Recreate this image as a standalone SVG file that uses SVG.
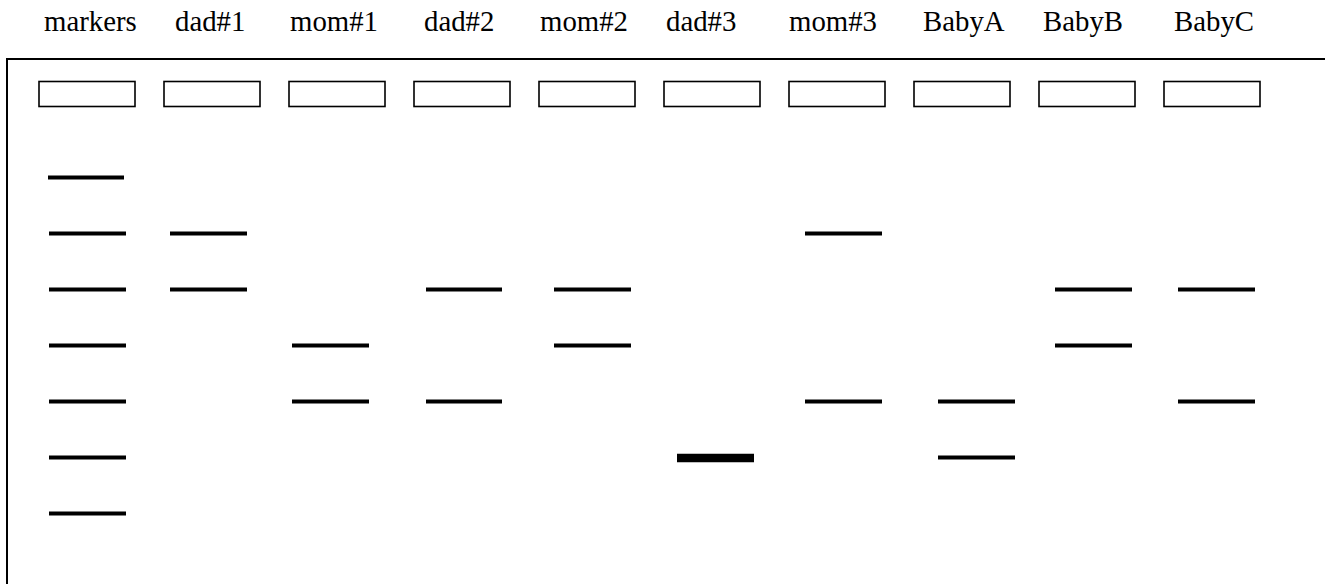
<svg xmlns="http://www.w3.org/2000/svg" width="1325" height="584" viewBox="0 0 1325 584">
<style>
.lbl{font-family:"Liberation Serif","Times New Roman",serif;font-size:28.8px;fill:#000}
.well{fill:#fff;stroke:#000;stroke-width:1.6}
.band{stroke:#000;stroke-width:4;fill:none}
.thick{stroke:#000;stroke-width:8.5;fill:none}
</style>
<rect width="1325" height="584" fill="#fff"/>
<path d="M7,590 V59 H1330" fill="none" stroke="#000" stroke-width="2"/>
<g id="labels">
<text class="lbl" x="44" y="31">markers</text>
<text class="lbl" x="175" y="31">dad#1</text>
<text class="lbl" x="290" y="31">mom#1</text>
<text class="lbl" x="424" y="31">dad#2</text>
<text class="lbl" x="540" y="31">mom#2</text>
<text class="lbl" x="666" y="31">dad#3</text>
<text class="lbl" x="789" y="31">mom#3</text>
<text class="lbl" x="923" y="31">BabyA</text>
<text class="lbl" x="1043" y="31">BabyB</text>
<text class="lbl" x="1174" y="31">BabyC</text>
</g>
<g id="wells">
<rect class="well" x="39" y="81.5" width="96" height="25"/>
<rect class="well" x="164" y="81.5" width="96" height="25"/>
<rect class="well" x="289" y="81.5" width="96" height="25"/>
<rect class="well" x="414" y="81.5" width="96" height="25"/>
<rect class="well" x="539" y="81.5" width="96" height="25"/>
<rect class="well" x="664" y="81.5" width="96" height="25"/>
<rect class="well" x="789" y="81.5" width="96" height="25"/>
<rect class="well" x="914" y="81.5" width="96" height="25"/>
<rect class="well" x="1039" y="81.5" width="96" height="25"/>
<rect class="well" x="1164" y="81.5" width="96" height="25"/>
</g>
<g id="lane-markers">
<line class="band" x1="48" y1="177.5" x2="124" y2="177.5"/>
<line class="band" x1="49" y1="233.5" x2="126" y2="233.5"/>
<line class="band" x1="49" y1="289.5" x2="126" y2="289.5"/>
<line class="band" x1="49" y1="345.5" x2="126" y2="345.5"/>
<line class="band" x1="49" y1="401.5" x2="126" y2="401.5"/>
<line class="band" x1="49" y1="457.5" x2="126" y2="457.5"/>
<line class="band" x1="49" y1="513.5" x2="126" y2="513.5"/>
</g>
<g id="lane-dad1">
<line class="band" x1="170" y1="233.5" x2="247" y2="233.5"/>
<line class="band" x1="170" y1="289.5" x2="247" y2="289.5"/>
</g>
<g id="lane-mom1">
<line class="band" x1="292" y1="345.5" x2="369" y2="345.5"/>
<line class="band" x1="292" y1="401.5" x2="369" y2="401.5"/>
</g>
<g id="lane-dad2">
<line class="band" x1="426" y1="289.5" x2="502" y2="289.5"/>
<line class="band" x1="426" y1="401.5" x2="502" y2="401.5"/>
</g>
<g id="lane-mom2">
<line class="band" x1="554" y1="289.5" x2="631" y2="289.5"/>
<line class="band" x1="554" y1="345.5" x2="631" y2="345.5"/>
</g>
<g id="lane-dad3">
<line class="thick" x1="677" y1="458" x2="754" y2="458"/>
</g>
<g id="lane-mom3">
<line class="band" x1="805" y1="233.5" x2="882" y2="233.5"/>
<line class="band" x1="805" y1="401.5" x2="882" y2="401.5"/>
</g>
<g id="lane-babyA">
<line class="band" x1="938" y1="401.5" x2="1015" y2="401.5"/>
<line class="band" x1="938" y1="457.5" x2="1015" y2="457.5"/>
</g>
<g id="lane-babyB">
<line class="band" x1="1055" y1="289.5" x2="1132" y2="289.5"/>
<line class="band" x1="1055" y1="345.5" x2="1132" y2="345.5"/>
</g>
<g id="lane-babyC">
<line class="band" x1="1178" y1="289.5" x2="1255" y2="289.5"/>
<line class="band" x1="1178" y1="401.5" x2="1255" y2="401.5"/>
</g>
</svg>
